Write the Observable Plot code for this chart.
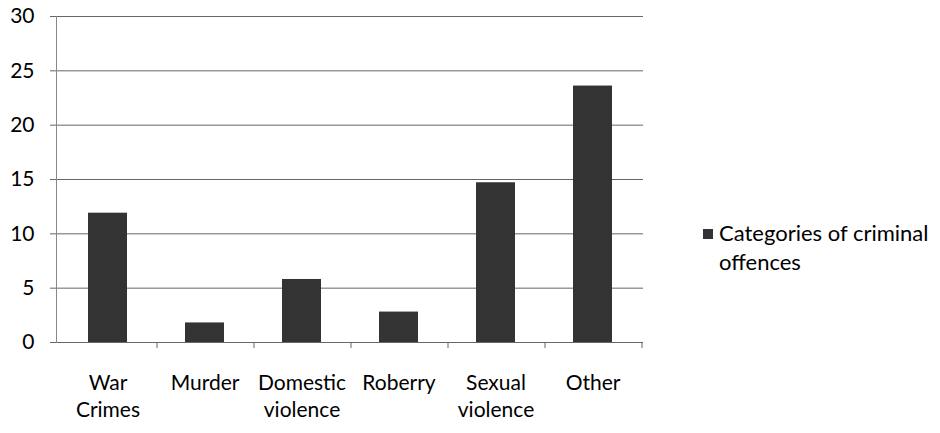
<!DOCTYPE html>
<html>
<head>
<meta charset="utf-8">
<script src="https://cdn.jsdelivr.net/npm/d3@7"></script>
<script src="https://cdn.jsdelivr.net/npm/@observablehq/plot@0.6"></script>
<style>
  html, body { margin: 0; padding: 0; background: #fff; }
  #wrap { position: relative; width: 940px; height: 433px; font-family: Lato, "Open Sans", sans-serif; }
  #legend { position: absolute; left: 703px; top: 218px; font-size: 22px; line-height: 29px; color: #000; }
  #legend .sw { display: inline-block; width: 10px; height: 10px; background: #333; margin-right: 6px; vertical-align: 2px; }
  #legend .l2 { padding-left: 16px; }
</style>
</head>
<body>
<div id="wrap">
  <div id="chart"></div>
  <div id="legend"><div><span class="sw"></span>Categories of criminal</div><div class="l2">offences</div></div>
</div>
<script>
const categories = ["War Crimes", "Murder", "Domestic violence", "Roberry", "Sexual violence", "Other"];
const tickLabels = ["War\nCrimes", "Murder", "Domestic\nviolence", "Roberry", "Sexual\nviolence", "Other"];
const values = [11.9, 1.8, 5.8, 2.8, 14.7, 23.6];
const yTicks = [0, 5, 10, 15, 20, 25, 30];

const data = categories.map((c, i) => ({category: c, value: values[i]}));
const labelOf = new Map(categories.map((c, i) => [c, tickLabels[i]]));

const plot = Plot.plot({
  width: 940,
  height: 433,
  marginLeft: 56,
  marginRight: 297,
  marginTop: 16,
  marginBottom: 91,
  style: {fontFamily: "Lato, 'Open Sans', sans-serif", fontSize: "21px", color: "#000", background: "#fff"},
  x: {domain: categories, paddingInner: 0.6, paddingOuter: 0.3, label: null},
  y: {domain: [0, 30], label: null},
  marks: [
    Plot.ruleY(yTicks, {stroke: "#666", strokeWidth: 1, insetLeft: -6}),
    Plot.frame({anchor: "left", stroke: "#888"}),
    Plot.barY(data, {x: "category", y: "value", fill: "#333"}),
    Plot.ruleX(categories, {x: d => d, dx: 49, y1: 0, y2: -0.55, stroke: "#666"}),
    Plot.axisY({ticks: yTicks, tickSize: 0, tickPadding: 22, fontSize: 21}),
    Plot.axisX({tickSize: 0, tickPadding: 28, fontSize: 21, lineHeight: 1.3, tickFormat: d => labelOf.get(d)})
  ]
});
document.getElementById("chart").appendChild(plot);
</script>
</body>
</html>
